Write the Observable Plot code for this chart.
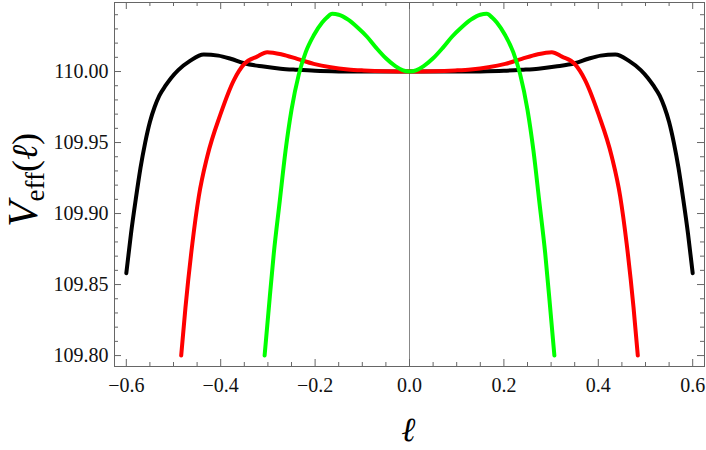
<!DOCTYPE html>
<html><head><meta charset="utf-8">
<script src="https://cdn.jsdelivr.net/npm/d3@7"></script>
<script src="https://cdn.jsdelivr.net/npm/@observablehq/plot@0.6"></script>
<style>body{margin:0;background:#fff}</style>
</head><body><div id="chart"></div>
<script>
// Black curve
const blackX = [-0.600,-0.590,-0.580,-0.570,-0.560,-0.550,-0.540,-0.530,-0.517,-0.505,-0.490,-0.465,-0.436,-0.405,-0.379,-0.350,-0.309,-0.273,-0.238,-0.200,-0.150,-0.100,-0.050,0,
  0.050,0.100,0.150,0.200,0.238,0.273,0.309,0.350,0.379,0.405,0.436,0.465,0.490,0.505,0.517,0.530,0.540,0.550,0.560,0.570,0.580,0.590,0.600];
const blackY = [109.858,109.886,109.910,109.932,109.950,109.9645,109.975,109.983,109.990,109.9955,110.001,110.0075,110.012,110.0112,110.009,110.0058,110.0035,110.002,110.0012,110.0005,110.0001,110.000,110.000,110.000,
  110.000,110.000,110.0001,110.0005,110.0012,110.002,110.0035,110.0058,110.009,110.0112,110.012,110.0075,110.001,109.9955,109.990,109.983,109.975,109.9645,109.950,109.932,109.910,109.886,109.858];
// Red curve
const redX = [-0.4837,-0.4746,-0.460,-0.4464,-0.4286,-0.4004,-0.372,-0.350,-0.323,-0.3015,-0.270,-0.238,-0.203,-0.167,-0.130,-0.097,-0.050,0,
  0.050,0.097,0.130,0.167,0.203,0.238,0.270,0.3015,0.323,0.350,0.372,0.4004,0.4286,0.4464,0.460,0.4746,0.4837];
const redY = [109.800,109.834,109.879,109.912,109.940,109.970,109.994,110.0054,110.0105,110.0136,110.012,110.0089,110.0054,110.003,110.0015,110.0008,110.0002,110.000,
  110.0002,110.0008,110.0015,110.003,110.0054,110.0089,110.012,110.0136,110.0105,110.0054,109.994,109.970,109.940,109.912,109.879,109.834,109.800];
// Green curve
const greenX = [-0.307,-0.299,-0.2875,-0.2748,-0.2627,-0.250,-0.2345,-0.220,-0.2028,-0.185,-0.175,-0.1638,-0.150,-0.130,-0.110,-0.090,-0.070,-0.050,-0.030,-0.015,0,
  0.015,0.030,0.050,0.070,0.090,0.110,0.130,0.150,0.1638,0.175,0.185,0.2028,0.220,0.2345,0.250,0.2627,0.2748,0.2875,0.299,0.307];
const greenY = [109.800,109.830,109.872,109.909,109.944,109.973,109.998,110.0135,110.0255,110.0345,110.038,110.0406,110.0400,110.0365,110.031,110.0245,110.0165,110.0093,110.0038,110.001,110.000,
  110.001,110.0038,110.0093,110.0165,110.0245,110.031,110.0365,110.0400,110.0406,110.038,110.0345,110.0255,110.0135,109.998,109.973,109.944,109.909,109.872,109.830,109.800];

const xMajorTicks = [-0.6,-0.4,-0.2,0,0.2,0.4,0.6];
const xMinorTicks = [-0.55,-0.5,-0.45,-0.35,-0.3,-0.25,-0.15,-0.1,-0.05,0.05,0.1,0.15,0.25,0.3,0.35,0.45,0.5,0.55];
const yMajorTicks = [109.80,109.85,109.90,109.95,110.00];
const yMinorTicks = [109.81,109.82,109.83,109.84,109.86,109.87,109.88,109.89,109.91,109.92,109.93,109.94,109.96,109.97,109.98,109.99,110.01,110.02,110.03,110.04];

const pts = (xs, ys) => xs.map((x, i) => ({x, y: ys[i]}));

const W = 706, H = 450, mL = 114, mR = 2, mT = 2, mB = 84;
const innerW = W - mL - mR, innerH = H - mT - mB;
const axisColor = "#666";
const majorLen = 7, minorLen = 4;
const serifName = "Liberation Serif";
const fx = d3.format(".1f"), fy = d3.format(".2f");

const plot = Plot.plot({
  width: W, height: H,
  marginLeft: mL, marginRight: mR, marginTop: mT, marginBottom: mB,
  style: "font-family: 'Liberation Serif', serif; font-size: 20px;",
  x: {domain: [-0.625, 0.625], axis: null},
  y: {domain: [109.7923, 110.0486], axis: null},
  marks: [
    Plot.ruleX([0], {stroke: "#888", strokeWidth: 1}),
    Plot.line(pts(blackX, blackY), {x: "x", y: "y", stroke: "#000000", strokeWidth: 4, curve: "monotone-x"}),
    Plot.line(pts(redX, redY), {x: "x", y: "y", stroke: "#ff0000", strokeWidth: 4, curve: "monotone-x"}),
    Plot.line(pts(greenX, greenY), {x: "x", y: "y", stroke: "#00ff00", strokeWidth: 4, curve: "monotone-x"}),
    // inward ticks on all four sides
    Plot.tickX(xMajorTicks, {x: d => d, insetTop: innerH - majorLen, stroke: axisColor}),
    Plot.tickX(xMinorTicks, {x: d => d, insetTop: innerH - minorLen, stroke: axisColor}),
    Plot.tickX(xMajorTicks, {x: d => d, insetBottom: innerH - majorLen, stroke: axisColor}),
    Plot.tickX(xMinorTicks, {x: d => d, insetBottom: innerH - minorLen, stroke: axisColor}),
    Plot.tickY(yMajorTicks, {y: d => d, insetRight: innerW - majorLen, stroke: axisColor}),
    Plot.tickY(yMinorTicks, {y: d => d, insetRight: innerW - minorLen, stroke: axisColor}),
    Plot.tickY(yMajorTicks, {y: d => d, insetLeft: innerW - majorLen, stroke: axisColor}),
    Plot.tickY(yMinorTicks, {y: d => d, insetLeft: innerW - minorLen, stroke: axisColor}),
    Plot.frame({stroke: axisColor}),
    // tick labels
    Plot.text(xMajorTicks, {x: d => d, frameAnchor: "bottom", dy: 19, lineAnchor: "middle", text: d => fx(d), fontSize: 20, fontFamily: serifName, fill: "#111"}),
    Plot.text(yMajorTicks, {y: d => d, frameAnchor: "left", dx: -6, textAnchor: "end", lineAnchor: "middle", text: d => fy(d), fontSize: 20, fontFamily: serifName, fill: "#111"})
  ]
});

const svg = d3.select(plot);
// y-axis label V_eff(ℓ)
const yl = svg.append("text")
  .attr("transform", "translate(37,180) rotate(-90)")
  .attr("text-anchor", "middle")
  .attr("font-family", serifName)
  .attr("fill", "#000");
yl.append("tspan").attr("font-size", 42).attr("font-style", "italic").text("V");
yl.append("tspan").attr("font-size", 27).attr("dy", 7).text("eff");
yl.append("tspan").attr("font-size", 36).attr("dy", -7).text("(");
yl.append("tspan").attr("font-size", 36).attr("font-style", "italic").text("ℓ");
yl.append("tspan").attr("font-size", 36).text(")");
// x-axis label ℓ
svg.append("text")
  .attr("x", 409).attr("y", 441)
  .attr("text-anchor", "middle")
  .attr("font-family", serifName)
  .attr("font-size", 34).attr("font-style", "italic").attr("font-weight", "bold")
  .attr("fill", "#000")
  .text("ℓ");

document.getElementById("chart").appendChild(plot);
</script>
</body></html>
